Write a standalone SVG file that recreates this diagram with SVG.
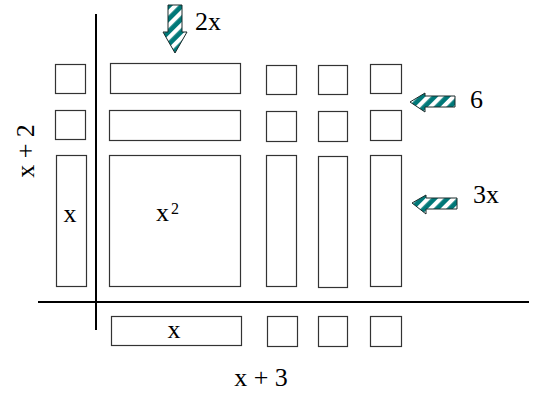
<svg xmlns="http://www.w3.org/2000/svg" width="534" height="393" viewBox="0 0 534 393">
<style>
.t{font-family:"Liberation Serif","Times New Roman",serif;font-size:26px;fill:#000}
.s{font-family:"Liberation Serif","Times New Roman",serif;font-size:16px;fill:#000}
rect.b{fill:#fff;stroke:#333;stroke-width:1.2}
.ax{stroke:#000;stroke-width:2;fill:none}
.arr{fill:url(#hatch);stroke:#1a2a2a;stroke-width:1}
</style>
<defs>
<pattern id="hatch" patternUnits="userSpaceOnUse" width="9" height="9" patternTransform="rotate(45)">
<rect width="9" height="9" fill="#007878"/>
<rect width="4.2" height="9" fill="#fff"/>
</pattern>
</defs>
<rect width="534" height="393" fill="#fff"/>
<g id="axes">
<line class="ax" x1="96" y1="14" x2="96" y2="330"/>
<line class="ax" x1="38" y1="302" x2="529" y2="302"/>
</g>
<g id="row1">
<rect class="b" x="55.5" y="64.5" width="30" height="29"/>
<rect class="b" x="110.5" y="63.5" width="130" height="30"/>
<rect class="b" x="266.5" y="65.5" width="30" height="29"/>
<rect class="b" x="318.5" y="65.5" width="29" height="29"/>
<rect class="b" x="370.5" y="64.5" width="31" height="29"/>
</g>
<g id="row2">
<rect class="b" x="55.5" y="110.5" width="30" height="29"/>
<rect class="b" x="109.5" y="110.5" width="131" height="30"/>
<rect class="b" x="266.5" y="111.5" width="30" height="30"/>
<rect class="b" x="318.5" y="111.5" width="29" height="30"/>
<rect class="b" x="370.5" y="110.5" width="31" height="30"/>
</g>
<g id="row3">
<rect class="b" x="56.5" y="155.5" width="30" height="131"/>
<text class="t" x="70" y="222" text-anchor="middle">x</text>
<rect class="b" x="109.5" y="155.5" width="131" height="131"/>
<text class="t" x="162.5" y="221" text-anchor="middle">x</text>
<text class="s" x="171" y="214">2</text>
<rect class="b" x="266.5" y="155.5" width="30" height="131"/>
<rect class="b" x="318.5" y="156.5" width="29" height="131"/>
<rect class="b" x="370.5" y="155.5" width="31" height="131"/>
</g>
<g id="row4">
<rect class="b" x="111.5" y="316.5" width="130" height="29"/>
<text class="t" x="174" y="338" text-anchor="middle">x</text>
<rect class="b" x="267.5" y="316.5" width="30" height="30"/>
<rect class="b" x="318.5" y="316.5" width="29" height="30"/>
<rect class="b" x="370.5" y="316.5" width="31" height="30"/>
</g>
<g id="labels">
<text class="t" x="261" y="386" text-anchor="middle">x + 3</text>
<text class="t" transform="translate(34,151) rotate(-90)" text-anchor="middle">x + 2</text>
</g>
<g id="arrow-2x">
<path class="arr" d="M168,5 H182 V32 H187 L175,53 L163,32 H168 Z"/>
<text class="t" x="195" y="30">2x</text>
</g>
<g id="arrow-6">
<path class="arr" d="M410,102 L425,93 V96 H455 V107 H425 V112 Z"/>
<text class="t" x="470" y="108">6</text>
</g>
<g id="arrow-3x">
<path class="arr" d="M412,203 L426,195 V198 H457 V209 H426 V214 Z"/>
<text class="t" x="473" y="203">3x</text>
</g>
</svg>
